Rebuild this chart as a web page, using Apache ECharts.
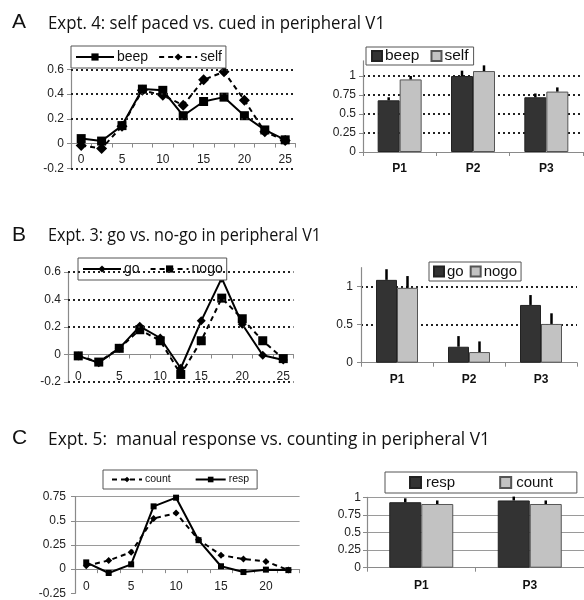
<!DOCTYPE html>
<html>
<head>
<meta charset="utf-8">
<script src="https://cdn.jsdelivr.net/npm/echarts@6/dist/echarts.min.js"></script>
<style>
  html, body { margin: 0; padding: 0; background: #fff; }
  #chart { width: 584px; height: 600px; }
</style>
</head>
<body>
<div id="chart"></div>
<script>
// ---- Panel A: self paced vs. cued ----
const timeA = ['0', '2.5', '5', '7.5', '10', '12.5', '15', '17.5', '20', '22.5', '25'];
const beepLine = [0.04, 0.02, 0.145, 0.44, 0.43, 0.225, 0.34, 0.375, 0.225, 0.11, 0.03];
const selfLine = [-0.015, -0.04, 0.14, 0.43, 0.39, 0.31, 0.515, 0.58, 0.35, 0.095, 0.025];
const phasesAB = ['P1', 'P2', 'P3'];
const beepBar = [0.68, 1.0, 0.72];
const beepErr = [0.04, 0.07, 0.05];
const selfBar = [0.955, 1.065, 0.795];
const selfErr = [0.045, 0.075, 0.055];

// ---- Panel B: go vs. no-go ----
const timeB = ['0', '2.5', '5', '7.5', '10', '12.5', '15', '17.5', '20', '22.5', '25'];
const goLine = [-0.01, -0.06, 0.045, 0.205, 0.12, -0.10, 0.245, 0.555, 0.22, -0.005, -0.04];
const nogoLine = [-0.01, -0.055, 0.045, 0.18, 0.10, -0.145, 0.10, 0.41, 0.26, 0.10, -0.03];
const goBar = [1.09, 0.21, 0.76];
const goErr = [0.14, 0.14, 0.13];
const nogoBar = [0.985, 0.14, 0.51];
const nogoErr = [0.155, 0.14, 0.14];

// ---- Panel C: manual response vs. counting ----
const timeC = ['0', '2.5', '5', '7.5', '10', '12.5', '15', '17.5', '20', '22.5'];
const respLine = [0.07, -0.04, 0.05, 0.65, 0.74, 0.30, 0.03, -0.03, -0.005, -0.01];
const countLine = [0.035, 0.09, 0.175, 0.525, 0.58, 0.305, 0.145, 0.105, 0.08, -0.01];
const phasesC = ['P1', 'P3'];
const respBar = [0.93, 0.955];
const respErr = [0.055, 0.055];
const countBar = [0.905, 0.905];
const countErr = [0.05, 0.05];

// gridline values drawn as dotted rules on the time-course plots
const gridTicksAB = [-0.2, 0.2, 0.4, 0.6];

const titles = [
  { letter: 'A', text: 'Expt. 4: self paced vs. cued in peripheral V1', y: 29, w: 337 },
  { letter: 'B', text: 'Expt. 3: go vs. no-go in peripheral V1', y: 241.5, w: 273 },
  { letter: 'C', text: 'Expt. 5:  manual response vs. counting in peripheral V1', y: 445, w: 442 }
];

const FONT = '"Liberation Sans", Arial, sans-serif';
const TITLE_FONT = '18px "Open Sans", sans-serif';
const DARK = '#333333';
const LIGHT = '#c2c2c2';

const chart = echarts.init(document.getElementById('chart'), null, { renderer: 'canvas' });

// measure title text so it can be fitted to its width
const ctx = document.createElement('canvas').getContext('2d');
ctx.font = TITLE_FONT;

const graphics = [];
titles.forEach(t => {
  graphics.push({
    type: 'text', x: 12, y: t.y - 6.5,
    style: { text: t.letter, font: '21px "Liberation Sans", Arial, sans-serif', fill: '#111', verticalAlign: 'middle' }
  });
  const natural = ctx.measureText(t.text).width;
  graphics.push({
    type: 'text', x: 48, y: t.y - 5.5, scaleX: t.w / natural,
    style: { text: t.text, font: TITLE_FONT, fill: '#111', verticalAlign: 'middle' }
  });
});

const grids = [
  { left: 71, top: 69.3, width: 224.4, height: 99 },     // A time course
  { left: 363, top: 60.8, width: 220, height: 91.2 },    // A bars
  { left: 68, top: 272, width: 225.5, height: 110 },     // B time course
  { left: 361, top: 267.7, width: 216, height: 95 },     // B bars
  { left: 75, top: 496.7, width: 224.6, height: 96.6 },  // C time course
  { left: 367, top: 497.3, width: 219, height: 70.4 }    // C bars
];

const axisLineGray = { show: true, lineStyle: { color: '#8a8a8a', width: 1.2 } };
const tickGray = { show: true, length: 4, lineStyle: { color: '#8a8a8a' } };

// time axes sit on y = 0, with their labels tucked just under that line
function timeAxis(gi, cats, margin) {
  return {
    type: 'category', gridIndex: gi, data: cats, boundaryGap: true,
    axisLine: Object.assign({ onZero: true }, axisLineGray),
    axisTick: Object.assign({ interval: 0 }, tickGray),
    axisLabel: { interval: 1, fontFamily: FONT, fontSize: 12, color: '#222', margin: margin },
    splitLine: { show: false }
  };
}
function phaseAxis(gi, cats, margin) {
  return {
    type: 'category', gridIndex: gi, data: cats,
    axisLine: axisLineGray, axisTick: tickGray,
    axisLabel: { fontFamily: FONT, fontSize: 12, fontWeight: 'bold', color: '#111', margin: margin },
    splitLine: { show: false }
  };
}
function valAxis(gi, min, max, interval, split, margin, fmt) {
  return {
    type: 'value', gridIndex: gi, min: min, max: max, interval: interval,
    axisLine: axisLineGray, axisTick: tickGray,
    axisLabel: {
      fontFamily: FONT, fontSize: 12, color: '#222', margin: margin,
      showMaxLabel: max % interval < 1e-9 || Math.abs(max % interval - interval) < 1e-9,
      formatter: fmt || (v => String(parseFloat(v.toFixed(2))))
    },
    splitLine: split
  };
}

const dottedSplit = { show: true, showMinLine: false, showMaxLine: false, lineStyle: { color: '#222', width: 2, type: [2, 3] } };
const graySplit = { show: true, showMinLine: false, lineStyle: { color: '#9a9a9a', width: 1 } };
const fmt1 = v => (Math.abs(v) < 1e-9 ? '0' : v.toFixed(1));

const xAxes = [
  timeAxis(0, timeA, -15),
  phaseAxis(1, phasesAB, 11),
  timeAxis(2, timeB, -11),
  phaseAxis(3, phasesAB, 11),
  timeAxis(4, timeC, -13),
  phaseAxis(5, phasesC, 12)
];
const yAxes = [
  valAxis(0, -0.2, 0.6, 0.2, { show: false }, 7, fmt1),
  valAxis(1, 0, 1.2, 0.25, dottedSplit, 7),
  valAxis(2, -0.2, 0.6, 0.2, { show: false }, 7, fmt1),
  valAxis(3, 0, 1.25, 0.5, dottedSplit, 8),
  valAxis(4, -0.25, 0.75, 0.25, Object.assign({}, graySplit, { showMaxLine: true }), 9),
  valAxis(5, 0, 1, 0.25, Object.assign({}, graySplit, { showMaxLine: true }), 6)
];

function dottedRules(values) {
  return {
    silent: true, symbol: 'none', animation: false,
    label: { show: false },
    lineStyle: { color: '#222', width: 2, type: [2, 3] },
    data: values.map(v => ({ yAxis: v }))
  };
}

function lineSeries(name, gi, data, symbol, size, dashed, rules) {
  const s = {
    name: name, type: 'line', xAxisIndex: gi, yAxisIndex: gi, data: data,
    symbol: symbol, symbolSize: size, showSymbol: true,
    itemStyle: { color: '#000' },
    lineStyle: { color: '#000', width: 2, type: dashed ? [5, 4] : 'solid' },
    z: 3, animation: false
  };
  if (rules) s.markLine = dottedRules(rules);
  return s;
}

function barSeries(name, gi, data, color, border, width) {
  return {
    name: name, type: 'bar', xAxisIndex: gi, yAxisIndex: gi, data: data,
    barWidth: width, barGap: '0%',
    itemStyle: { color: color, borderColor: border, borderWidth: 1 },
    animation: false
  };
}

// upward error whiskers centred on each bar of a pair (side -1 left bar, +1 right bar)
function errSeries(gi, vals, errs, side, barW) {
  return {
    type: 'custom', xAxisIndex: gi, yAxisIndex: gi, z: 5, silent: true, animation: false,
    data: vals.map((v, i) => [i, v, errs[i]]),
    renderItem: function (params, api) {
      const base = api.coord([api.value(0), api.value(1)]);
      const top = api.coord([api.value(0), api.value(1) + api.value(2)]);
      const cx = base[0] + side * barW / 2;
      return {
        type: 'line',
        shape: { x1: cx, y1: base[1], x2: cx, y2: top[1] },
        style: { stroke: '#000', lineWidth: 2.5 }
      };
    }
  };
}

const series = [
  lineSeries('beep', 0, beepLine, 'rect', 9, false, gridTicksAB),
  lineSeries('self', 0, selfLine, 'diamond', 11, true),
  barSeries('beep#b', 1, beepBar, DARK, '#222', 22),
  barSeries('self#b', 1, selfBar, LIGHT, '#555', 22),
  errSeries(1, beepBar, beepErr, -1, 22),
  errSeries(1, selfBar, selfErr, 1, 22),

  lineSeries('go', 2, goLine, 'diamond', 9, false, gridTicksAB),
  lineSeries('nogo', 2, nogoLine, 'rect', 9, true),
  barSeries('go#b', 3, goBar, DARK, '#222', 21),
  barSeries('nogo#b', 3, nogoBar, LIGHT, '#555', 21),
  errSeries(3, goBar, goErr, -1, 21),
  errSeries(3, nogoBar, nogoErr, 1, 21),

  lineSeries('resp', 4, respLine, 'rect', 6, false),
  lineSeries('count', 4, countLine, 'diamond', 7, true),
  barSeries('resp#b', 5, respBar, DARK, '#222', 32),
  barSeries('count#b', 5, countBar, LIGHT, '#555', 32),
  errSeries(5, respBar, respErr, -1, 32),
  errSeries(5, countBar, countErr, 1, 32)
];

const stripTag = n => n.replace(/#.*$/, '');
function legendBox(left, top, data, opts) {
  return Object.assign({
    left: left, top: top, data: data, orient: 'horizontal',
    borderColor: '#555', borderWidth: 1, backgroundColor: '#fff',
    selectedMode: false, formatter: stripTag,
    textStyle: { fontFamily: FONT, fontSize: 14, color: '#111', padding: [0, 0, 0, -2] }
  }, opts);
}

const legends = [
  legendBox(71, 46, ['beep', 'self'], { padding: [4, 4], itemGap: 10, itemWidth: 38, itemHeight: 9 }),
  legendBox(366, 47, ['beep#b', 'self#b'], { icon: 'rect', padding: [1, 5], itemGap: 11, itemWidth: 10, itemHeight: 10,
    textStyle: { fontFamily: FONT, fontSize: 15.5, color: '#111', padding: [0, 0, 0, -2] } }),
  legendBox(78, 258, ['go', 'nogo'], { padding: [4, 4], itemGap: 10, itemWidth: 38, itemHeight: 9 }),
  legendBox(429, 262, ['go#b', 'nogo#b'], { icon: 'rect', padding: [2, 4], itemGap: 6, itemWidth: 10, itemHeight: 10,
    textStyle: { fontFamily: FONT, fontSize: 15, color: '#111', padding: [0, 0, 0, -2] } }),
  legendBox(103, 470, ['count', 'resp'], { padding: [4, 8], itemGap: 24, itemWidth: 30, itemHeight: 7,
    textStyle: { fontFamily: FONT, fontSize: 10.5, color: '#111', padding: [0, 0, 0, -2] } }),
  legendBox(385, 472, ['resp#b', 'count#b'], { icon: 'rect', padding: [3, 24], itemGap: 44, itemWidth: 11, itemHeight: 11,
    textStyle: { fontFamily: FONT, fontSize: 15, color: '#111' } })
];

chart.setOption({
  backgroundColor: '#ffffff',
  animation: false,
  graphic: graphics,
  grid: grids,
  xAxis: xAxes,
  yAxis: yAxes,
  legend: legends,
  series: series
});
</script>
</body>
</html>
